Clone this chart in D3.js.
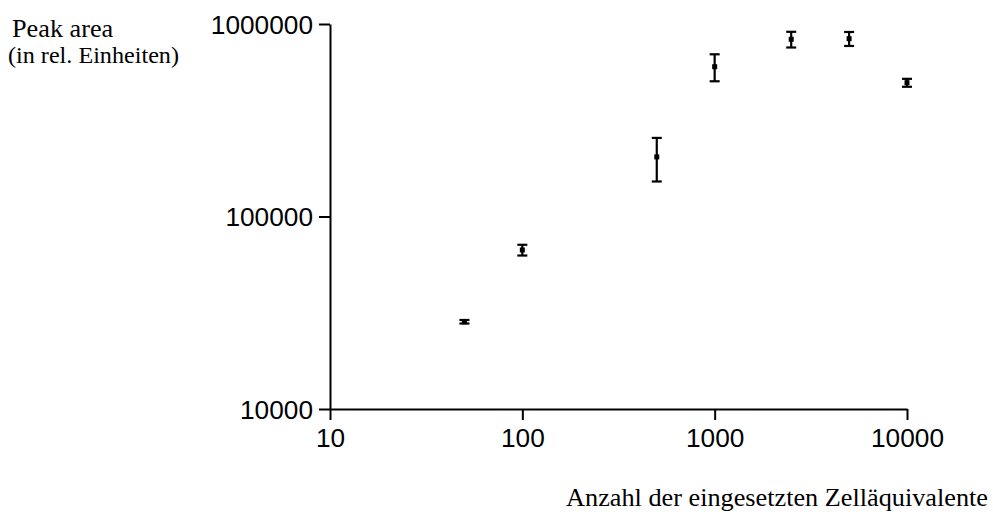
<!DOCTYPE html>
<html>
<head>
<meta charset="utf-8">
<script src="https://cdn.jsdelivr.net/npm/d3@7/dist/d3.min.js"></script>
<style>
  html, body { margin: 0; padding: 0; background: #fff; }
  svg { display: block; }
</style>
</head>
<body>
<svg id="chart" width="993" height="517"></svg>
<script>
// Peak area vs. number of cell equivalents (log-log), mean ± SD
const cellCounts = [50, 100, 500, 1000, 2500, 5000, 10000];
const peakMeans  = [28400, 67000, 204000, 600000, 833000, 839000, 495500];
const peakErrors = [600, 4300, 52000, 96000, 78000, 70000, 23500];

const xTickValues = [10, 100, 1000, 10000];
const yTickValues = [10000, 100000, 1000000];

const yTitleLines = ["Peak area", "(in rel. Einheiten)"];
const xTitle = "Anzahl der eingesetzten Zelläquivalente";

const svg = d3.select("#chart");
const stretch = 1.05;
const sans = "'Liberation Sans', Arial, Helvetica, sans-serif";
const serif = "'Liberation Serif', 'Times New Roman', serif";

const x = d3.scaleLog().domain([10, 10000]).range([330, 907]);
const y = d3.scaleLog().domain([10000, 1000000]).range([409, 24]);

const fmt = d3.format("d");

// X axis
const gx = svg.append("g")
  .attr("transform", `translate(0,${y(10000)})`)
  .call(d3.axisBottom(x).tickValues(xTickValues).tickFormat(fmt)
    .tickSize(11).tickSizeOuter(0));
gx.select(".domain").attr("stroke", "#000").attr("stroke-width", 2);
gx.selectAll(".tick line").attr("stroke", "#000").attr("stroke-width", 2);
gx.selectAll(".tick text")
  .attr("x", null).attr("y", null).attr("dy", null)
  .attr("transform", `translate(0,38) scale(${stretch},1)`)
  .attr("text-anchor", "middle")
  .attr("fill", "#000")
  .style("font-family", sans).style("font-size", "25px");

// Y axis
const gy = svg.append("g")
  .attr("transform", `translate(${x(10)},0)`)
  .call(d3.axisLeft(y).tickValues(yTickValues).tickFormat(fmt)
    .tickSize(11).tickSizeOuter(0));
gy.select(".domain").attr("stroke", "#000").attr("stroke-width", 2);
gy.selectAll(".tick line").attr("stroke", "#000").attr("stroke-width", 2);
gy.selectAll(".tick text")
  .attr("x", null).attr("y", null).attr("dy", null)
  .attr("transform", `translate(-17,9) scale(${stretch},1)`)
  .attr("text-anchor", "end")
  .attr("fill", "#000")
  .style("font-family", sans).style("font-size", "25px");

// Error bars
const pts = cellCounts.map((c, i) => ({ c, m: peakMeans[i], e: peakErrors[i] }));
const bars = svg.append("g").attr("stroke", "#000").attr("stroke-width", 2.2);
bars.selectAll("line.v").data(pts).join("line").attr("class", "v")
  .attr("x1", d => x(d.c)).attr("x2", d => x(d.c))
  .attr("y1", d => y(d.m + d.e)).attr("y2", d => y(d.m - d.e));
bars.selectAll("line.top").data(pts).join("line").attr("class", "top")
  .attr("x1", d => x(d.c) - 5).attr("x2", d => x(d.c) + 5)
  .attr("y1", d => y(d.m + d.e)).attr("y2", d => y(d.m + d.e));
bars.selectAll("line.bot").data(pts).join("line").attr("class", "bot")
  .attr("x1", d => x(d.c) - 5).attr("x2", d => x(d.c) + 5)
  .attr("y1", d => y(d.m - d.e)).attr("y2", d => y(d.m - d.e));

// Mean markers
svg.append("g").selectAll("rect").data(pts).join("rect")
  .attr("x", d => x(d.c) - 2.5).attr("y", d => y(d.m) - 2.5)
  .attr("width", 5).attr("height", 5).attr("fill", "#000");

// Axis titles
function stretchedText(tx, ty, str, size, anchor) {
  svg.append("text")
    .attr("transform", `translate(${tx},${ty}) scale(${stretch},1)`)
    .attr("text-anchor", anchor)
    .attr("fill", "#000")
    .style("font-family", serif).style("font-size", size + "px")
    .text(str);
}
stretchedText(12, 37, yTitleLines[0], 25, "start");
stretchedText(8, 63, yTitleLines[1], 23, "start");
stretchedText(988, 506, xTitle, 25, "end");
</script>
</body>
</html>
